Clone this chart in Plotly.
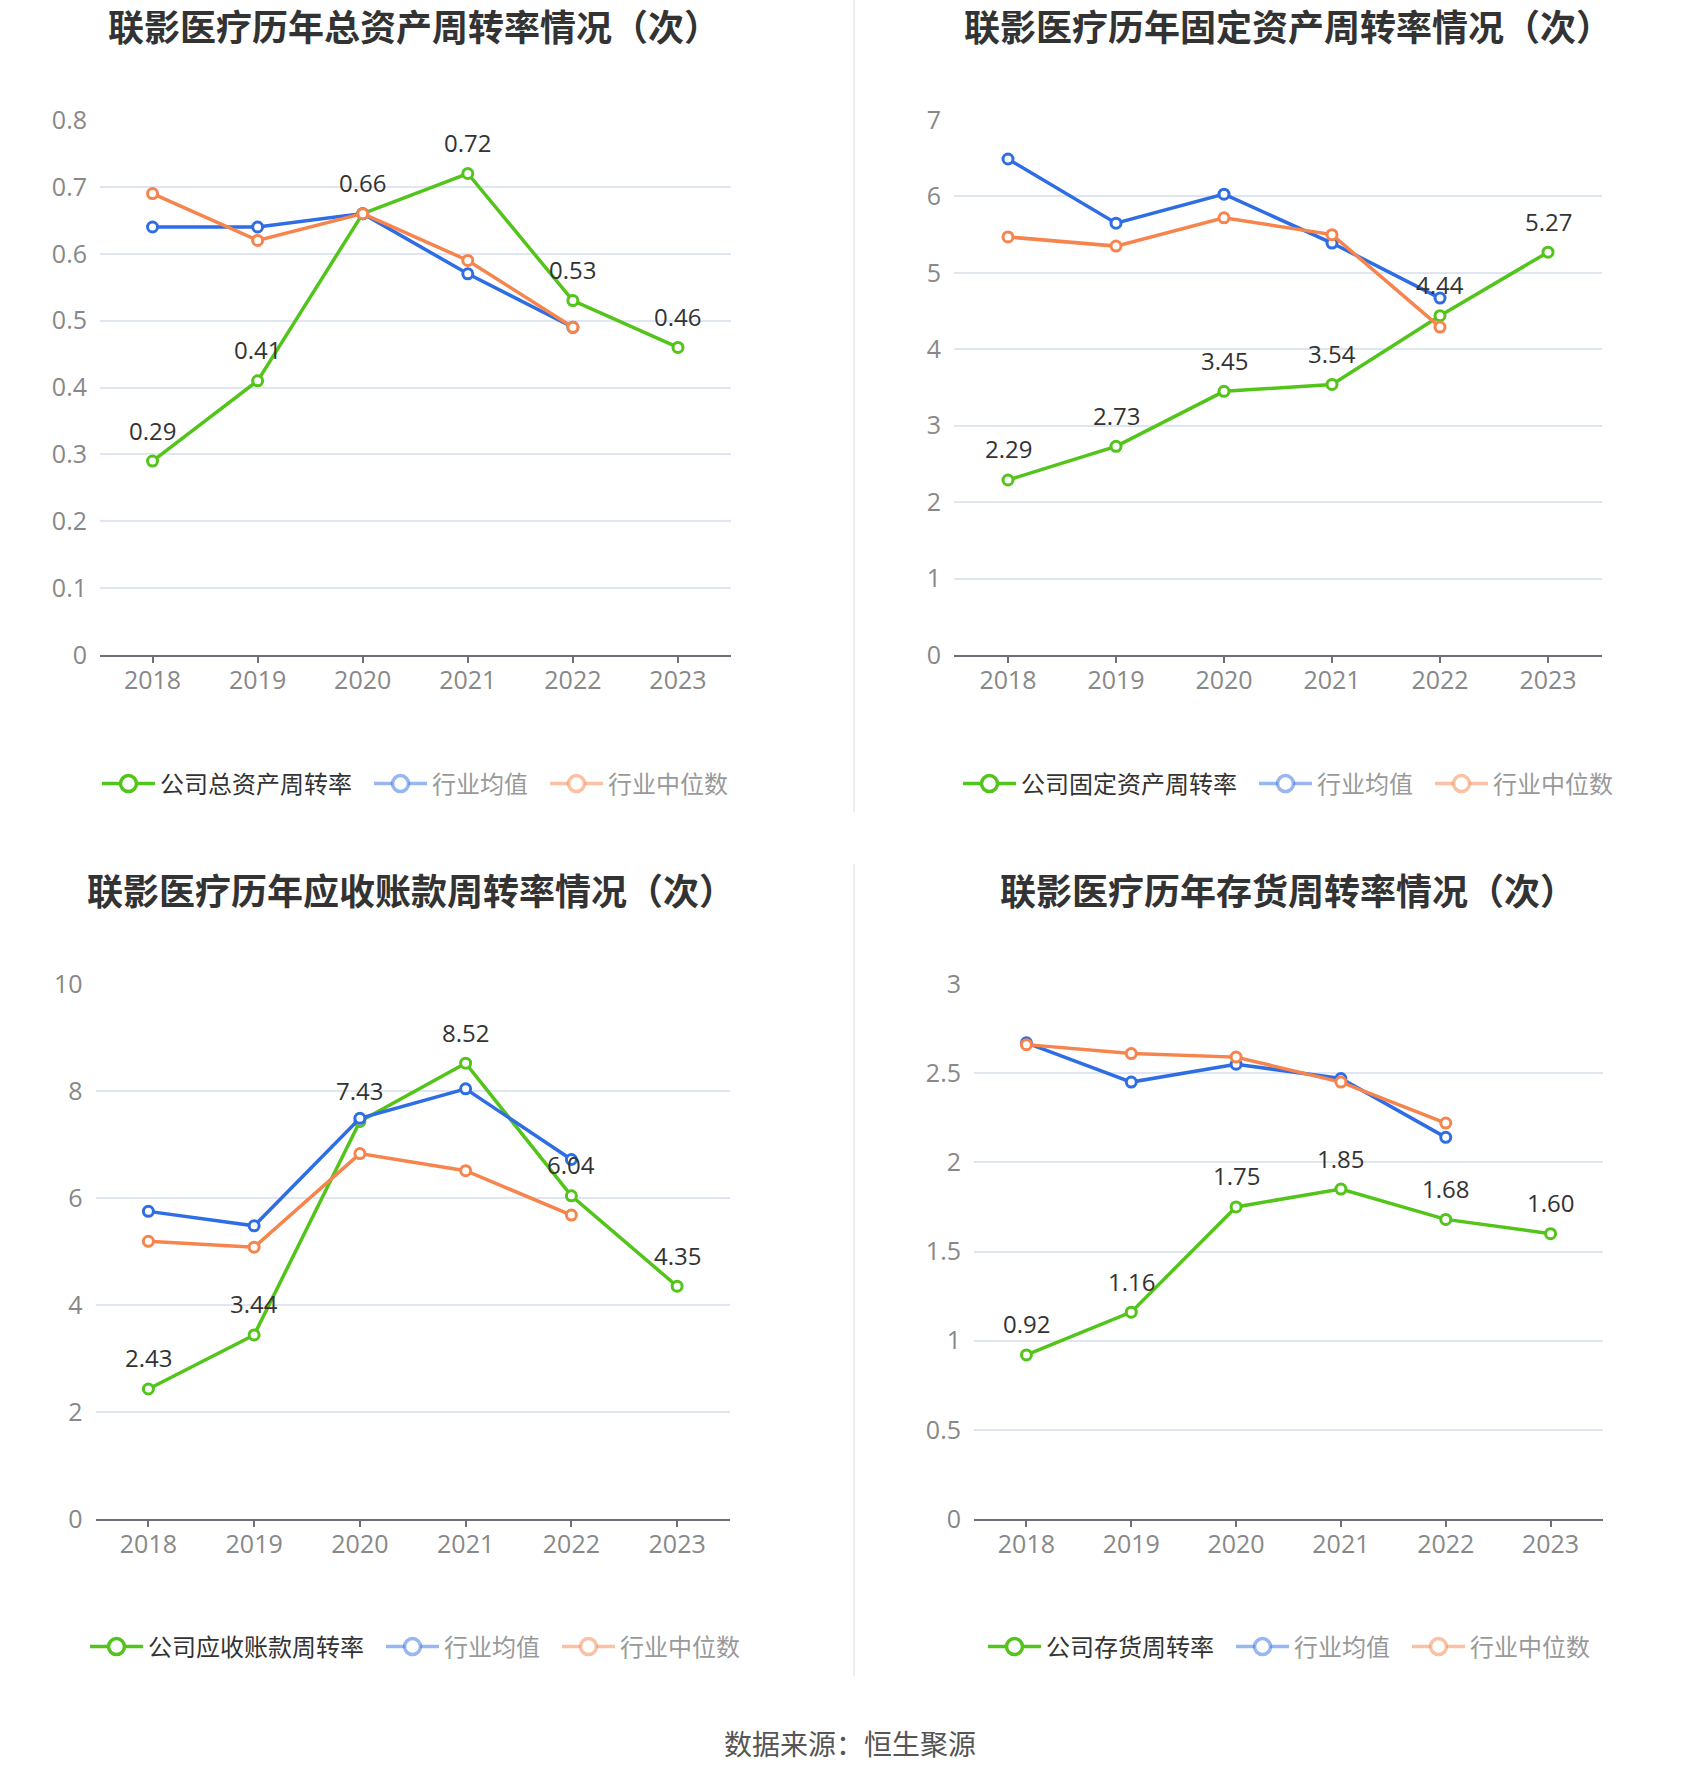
import plotly.graph_objects as go

# ---------------- data ----------------
years = ['2018', '2019', '2020', '2021', '2022', '2023']
industry_years = years[:5]

total_company = [0.29, 0.41, 0.66, 0.72, 0.53, 0.46]
total_avg = [0.64, 0.64, 0.66, 0.57, 0.49]
total_median = [0.69, 0.62, 0.66, 0.59, 0.49]

fixed_company = [2.29, 2.73, 3.45, 3.54, 4.44, 5.27]
fixed_avg = [6.49, 5.65, 6.03, 5.39, 4.67]
fixed_median = [5.47, 5.35, 5.72, 5.50, 4.29]

recv_company = [2.43, 3.44, 7.43, 8.52, 6.04, 4.35]
recv_avg = [5.75, 5.48, 7.49, 8.04, 6.72]
recv_median = [5.19, 5.08, 6.83, 6.51, 5.68]

inv_company = [0.92, 1.16, 1.75, 1.85, 1.68, 1.60]
inv_avg = [2.67, 2.45, 2.55, 2.47, 2.14]
inv_median = [2.66, 2.61, 2.59, 2.45, 2.22]

titles = ['联影医疗历年总资产周转率情况（次）', '联影医疗历年固定资产周转率情况（次）',
          '联影医疗历年应收账款周转率情况（次）', '联影医疗历年存货周转率情况（次）']
company_names = ['公司总资产周转率', '公司固定资产周转率', '公司应收账款周转率', '公司存货周转率']
avg_name = '行业均值'
median_name = '行业中位数'
source_text = '数据来源：恒生聚源'

y_tickvals = [
    [0, 0.1, 0.2, 0.3, 0.4, 0.5, 0.6, 0.7, 0.8],
    [0, 1, 2, 3, 4, 5, 6, 7],
    [0, 2, 4, 6, 8, 10],
    [0, 0.5, 1, 1.5, 2, 2.5, 3],
]
y_ticktext = [
    ['0', '0.1', '0.2', '0.3', '0.4', '0.5', '0.6', '0.7', '0.8'],
    ['0', '1', '2', '3', '4', '5', '6', '7'],
    ['0', '2', '4', '6', '8', '10'],
    ['0', '0.5', '1', '1.5', '2', '2.5', '3'],
]

panels = [
    (total_company, total_avg, total_median),
    (fixed_company, fixed_avg, fixed_median),
    (recv_company, recv_avg, recv_median),
    (inv_company, inv_avg, inv_median),
]

# ---------------- layout geometry ----------------
W, H = 1700, 1782
GREEN = '#52c41a'
BLUE = '#2f6de5'
ORANGE = '#f7844c'
BLUE_FADE = 'rgba(47,109,229,0.5)'
ORANGE_FADE = 'rgba(247,132,76,0.5)'
FONT = 'Open Sans, Noto Sans CJK SC, sans-serif'
CJK = 'Noto Sans CJK SC, sans-serif'
GAP = '\u2002'

# pixel boxes: (x0, x1, y_top, y_bottom)
boxes = [
    (100, 730.5, 120, 655),
    (954, 1602, 120, 655),
    (95.5, 730, 984, 1519),
    (974, 1603, 984, 1519),
]
title_pos = [(414, 25), (1288, 25), (411, 889), (1288, 889)]
legend_pos = [(415, 784), (1288, 784), (415, 1647), (1289, 1647)]

fig = go.Figure()
layout = dict(
    width=W, height=H,
    margin=dict(l=0, r=0, t=0, b=0, autoexpand=False),
    paper_bgcolor='white', plot_bgcolor='white',
    font=dict(family=FONT, size=24, color='#333333'),
    annotations=[], shapes=[],
)

for i, (comp, avg, med) in enumerate(panels):
    n = i + 1
    xa = 'x' if n == 1 else f'x{n}'
    ya = 'y' if n == 1 else f'y{n}'
    lg = 'legend' if n == 1 else f'legend{n}'
    x0, x1, yt, yb = boxes[i]

    line_kw = dict(mode='lines+markers', xaxis=xa, yaxis=ya, showlegend=False,
                   hoverinfo='skip')
    for xs, ys, col in [(years, comp, GREEN), (industry_years, avg, BLUE),
                        (industry_years, med, ORANGE)]:
        fig.add_trace(go.Scatter(x=xs, y=ys, line=dict(color=col, width=3.5),
                                 marker=dict(symbol='circle', size=10, color='white',
                                             line=dict(color=col, width=3)), **line_kw))

    # legend-only entries
    leg_items = [
        (company_names[i] + GAP, GREEN, '#333333'),
        (avg_name + GAP, BLUE_FADE, '#999999'),
        (median_name, ORANGE_FADE, '#999999'),
    ]
    for name, col, tcol in leg_items:
        fig.add_trace(go.Scatter(
            x=[None], y=[None], mode='lines+markers', xaxis=xa, yaxis=ya,
            name=f'<span style="color:{tcol}">{name}</span>',
            line=dict(color=col, width=3.5),
            marker=dict(symbol='circle', size=16, color='white', line=dict(color=col, width=3.5)),
            legend=lg, showlegend=True))

    # data labels on company series
    for k, v in enumerate(comp):
        layout['annotations'].append(dict(
            x=k, y=v, xref=xa, yref=ya, text=f'{v:.2f}', showarrow=False,
            yshift=31, font=dict(size=24, color='#333333', family=FONT)))

    # axes
    layout['xaxis' if n == 1 else f'xaxis{n}'] = dict(
        domain=[x0 / W, x1 / W], anchor=ya, type='category',
        categoryorder='array', categoryarray=years, range=[-0.5, 5.5],
        showline=True, linecolor='#6e7079', linewidth=2,
        ticks='outside', ticklen=6, tickwidth=2, tickcolor='#6e7079',
        showgrid=False, zeroline=False, ticklabelstandoff=-4, automargin=False,
        tickfont=dict(size=25, color='#888888', family=FONT), fixedrange=True)
    layout['yaxis' if n == 1 else f'yaxis{n}'] = dict(
        domain=[1 - yb / H, 1 - yt / H], anchor=xa,
        range=[0, y_tickvals[i][-1]], tickmode='array',
        tickvals=y_tickvals[i], ticktext=y_ticktext[i],
        showgrid=True, gridcolor='#e0e6f1', gridwidth=1.5,
        zeroline=False, showline=False, ticks='', ticklabelstandoff=12, automargin=False,
        tickfont=dict(size=25, color='#888888', family=FONT), fixedrange=True)

    # title
    tx, ty = title_pos[i]
    layout['annotations'].append(dict(
        x=tx / W, y=1 - ty / H, xref='paper', yref='paper', showarrow=False,
        text=f'<b>{titles[i]}</b>', xanchor='center', yanchor='middle',
        font=dict(size=36, color='#333333', family=CJK)))

    # legend
    lx, ly = legend_pos[i]
    layout[lg] = dict(
        orientation='h', x=lx / W, y=1 - ly / H, xanchor='center', yanchor='middle',
        font=dict(size=24, color='#333333', family=CJK),
        bgcolor='rgba(0,0,0,0)', itemclick=False, itemdoubleclick=False,
        tracegroupgap=0, itemwidth=53)

# divider lines
for (ya0, ya1) in [(0, 812), (864, 1676)]:
    layout['shapes'].append(dict(
        type='line', xref='paper', yref='paper', x0=854 / W, x1=854 / W,
        y0=1 - ya0 / H, y1=1 - ya1 / H, line=dict(color='#eeeeee', width=2)))

# source
layout['annotations'].append(dict(
    x=850 / W, y=1 - 1743 / H, xref='paper', yref='paper', showarrow=False,
    text=source_text, xanchor='center', yanchor='middle',
    font=dict(size=28, color='#555555', family=CJK)))

fig.update_layout(**layout)
fig.write_html('out.html', config={'displayModeBar': False})
